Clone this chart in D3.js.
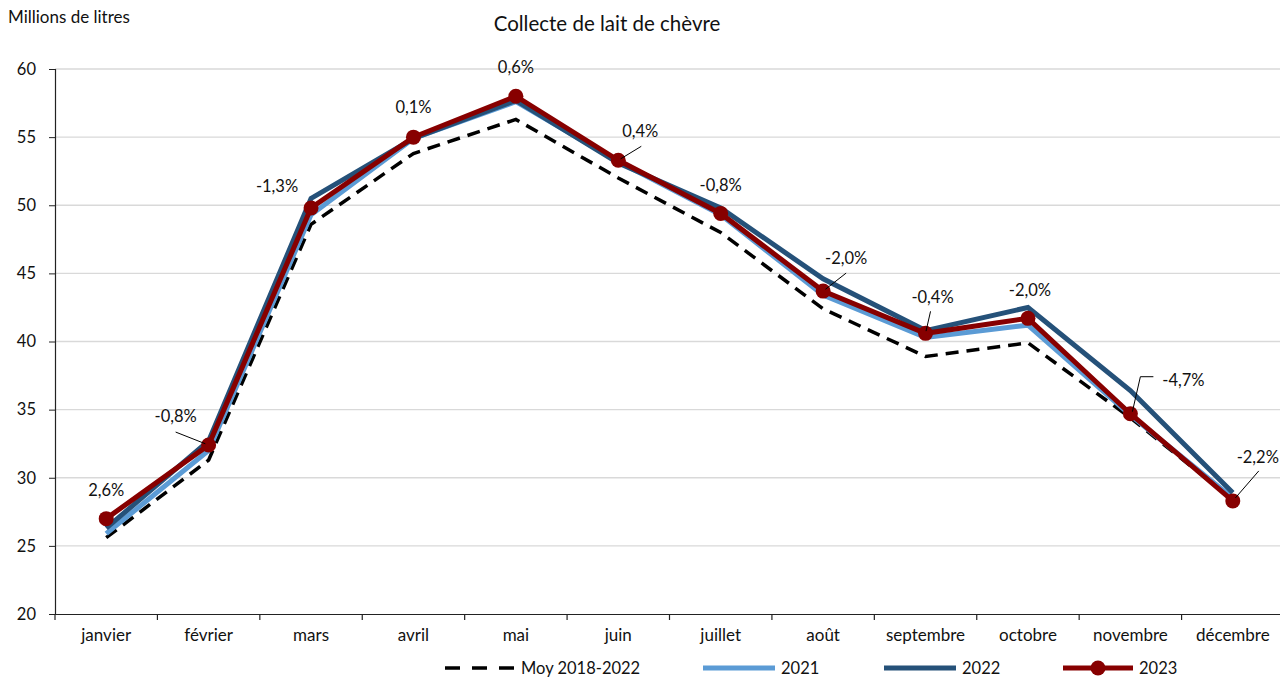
<!DOCTYPE html>
<html>
<head>
<meta charset="utf-8">
<script src="https://cdn.jsdelivr.net/npm/d3@7"></script>
<style>
  body { margin: 0; background: #fff; }
  svg { font-family: Lato, "Open Sans", sans-serif; }
</style>
</head>
<body>
<svg id="chart" width="1280" height="678"></svg>
<script>
const months = ["janvier", "février", "mars", "avril", "mai", "juin", "juillet", "août", "septembre", "octobre", "novembre", "décembre"];
const moy1822 = [25.6, 31.3, 48.6, 53.8, 56.3, 52.0, 48.0, 42.4, 38.9, 39.9, 34.4, 28.4];
const y2021 = [25.9, 32.0, 49.3, 54.9, 57.6, 53.2, 49.3, 43.4, 40.3, 41.2, 34.6, 28.5];
const y2022 = [26.3, 32.7, 50.5, 54.9, 57.7, 53.1, 49.8, 44.6, 40.8, 42.5, 36.4, 28.9];
const y2023 = [27.0, 32.4, 49.8, 55.0, 58.0, 53.3, 49.4, 43.7, 40.6, 41.7, 34.7, 28.3];
const evolution = ["2,6%", "-0,8%", "-1,3%", "0,1%", "0,6%", "0,4%", "-0,8%", "-2,0%", "-0,4%", "-2,0%", "-4,7%", "-2,2%"];
const yTicks = [20, 25, 30, 35, 40, 45, 50, 55, 60];

// label placement relative to the 2023 point: [dx, dy (baseline), leader start or null]
const labelPos = [
  [0, -23, null], [-33, -23, [-33, -13]], [-34, -16, null], [0, -24, null],
  [0, -23, null], [22, -23, [23, -14]], [0, -22, null], [23, -27, [23, -18]],
  [7, -30, [5, -22]], [2, -22, null], [53, -28, "elbow"], [25, -38, [26, -30]]
];

const svg = d3.select("#chart");
const margin = { left: 55, right: -4, top: 69, bottom: 64 };
const width = 1280, height = 678;

const x = d3.scaleBand().domain(months).range([margin.left, width - margin.right]);
const y = d3.scaleLinear().domain([20, 60]).range([height - margin.bottom, margin.top]);
const cx = m => x(m) + x.bandwidth() / 2;

// gridlines
svg.append("g").selectAll("line").data(yTicks.slice(1)).enter().append("line")
  .attr("x1", margin.left).attr("x2", width)
  .attr("y1", d => y(d)).attr("y2", d => y(d))
  .attr("stroke", "#d9d9d9").attr("stroke-width", 1.3);

// y axis
const yAxis = svg.append("g").attr("transform", `translate(${margin.left},0)`)
  .call(d3.axisLeft(y).tickValues(yTicks).tickSize(6).tickPadding(13));
yAxis.select(".domain").attr("stroke", "#222").attr("stroke-width", 1.2);
yAxis.selectAll(".tick line").attr("stroke", "#222");
yAxis.selectAll("text").attr("font-size", 16.5).attr("fill", "#111").attr("font-family", "Lato, sans-serif");

// x axis
const xAxis = svg.append("g").attr("transform", `translate(0,${y(20)})`)
  .call(d3.axisBottom(x).tickSize(0).tickPadding(15));
xAxis.select(".domain").attr("stroke", "#222").attr("stroke-width", 1.2);
xAxis.selectAll("text").attr("font-size", 17).attr("fill", "#111").attr("font-family", "Lato, sans-serif");
svg.append("g").selectAll("line").data(d3.range(months.length + 1)).enter().append("line")
  .attr("x1", i => margin.left + i * x.bandwidth()).attr("x2", i => margin.left + i * x.bandwidth())
  .attr("y1", y(20)).attr("y2", y(20) + 6).attr("stroke", "#222").attr("stroke-width", 1.2);

const line = d3.line().x((d, i) => cx(months[i])).y(d => y(d));

const series = [
  { name: "Moy 2018-2022", values: moy1822, color: "#000", w: 3.5, dash: "13,8" },
  { name: "2021", values: y2021, color: "#5b9bd5", w: 5, dash: null },
  { name: "2022", values: y2022, color: "#255179", w: 5, dash: null },
  { name: "2023", values: y2023, color: "#870000", w: 5, dash: null }
];

series.forEach(s => {
  svg.append("path").datum(s.values)
    .attr("d", line).attr("fill", "none")
    .attr("stroke", s.color).attr("stroke-width", s.w)
    .attr("stroke-dasharray", s.dash).attr("stroke-linejoin", "miter");
});

svg.append("g").selectAll("circle").data(y2023).enter().append("circle")
  .attr("cx", (d, i) => cx(months[i])).attr("cy", d => y(d)).attr("r", 7.5)
  .attr("fill", "#870000");

// labels
const lab = svg.append("g");
y2023.forEach((v, i) => {
  const px = cx(months[i]), py = y(v);
  const [dx, dy, leader] = labelPos[i];
  lab.append("text").attr("x", px + dx).attr("y", py + dy)
    .attr("text-anchor", "middle").attr("font-size", 16.5).attr("fill", "#111")
    .text(evolution[i]);
  if (leader === "elbow") {
    lab.append("polyline")
      .attr("points", `${px + 2},${py - 2} ${px + 10},${py - 37} ${px + 23},${py - 37}`)
      .attr("fill", "none").attr("stroke", "#000").attr("stroke-width", 1);
  } else if (leader) {
    lab.append("line")
      .attr("x1", px + leader[0]).attr("y1", py + leader[1])
      .attr("x2", px + leader[0] * 0.1).attr("y2", py + leader[1] * 0.1)
      .attr("stroke", "#000").attr("stroke-width", 1);
  }
});

// titles
svg.append("text").attr("x", 607).attr("y", 31).attr("text-anchor", "middle")
  .attr("font-size", 20.5).attr("fill", "#111").text("Collecte de lait de chèvre");
svg.append("text").attr("x", 8).attr("y", 23)
  .attr("font-size", 17).attr("fill", "#111").text("Millions de litres");

// legend
const legendItems = [
  { s: series[0], x1: 445, x2: 515 },
  { s: series[1], x1: 703, x2: 775 },
  { s: series[2], x1: 884, x2: 956 },
  { s: series[3], x1: 1063, x2: 1133 }
];
const ly = 668;
legendItems.forEach(it => {
  svg.append("line").attr("x1", it.x1).attr("x2", it.x2).attr("y1", ly).attr("y2", ly)
    .attr("stroke", it.s.color).attr("stroke-width", it.s.w)
    .attr("stroke-dasharray", it.s.dash ? "15,12" : null);
  if (it.s.name === "2023") {
    svg.append("circle").attr("cx", (it.x1 + it.x2) / 2).attr("cy", ly).attr("r", 7.5).attr("fill", it.s.color);
  }
  svg.append("text").attr("x", it.x2 + 6).attr("y", ly + 6)
    .attr("font-size", 16.5).attr("fill", "#111").text(it.s.name);
});
</script>
</body>
</html>
